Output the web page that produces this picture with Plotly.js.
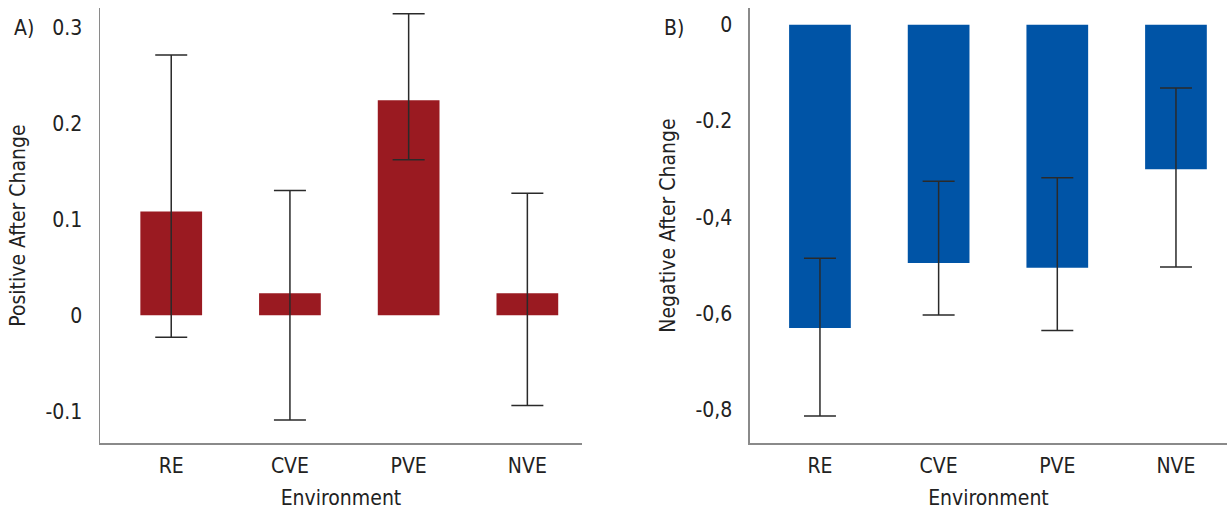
<!DOCTYPE html>
<html>
<head>
<meta charset="utf-8">
<script src="https://cdn.plot.ly/plotly-3.0.1.min.js"></script>
<style>html,body{margin:0;padding:0;background:#fff;}#chart{width:1227px;height:511px;}</style>
</head>
<body>
<div id="chart"></div>
<script>
const categories = ["RE", "CVE", "PVE", "NVE"];
const positiveMeans = [0.108, 0.023, 0.224, 0.023];
const positiveUpper = [0.271, 0.130, 0.314, 0.127];
const positiveLower = [-0.023, -0.109, 0.162, -0.094];
const negativeMeans = [-0.630, -0.495, -0.505, -0.300];
const negativeUpper = [-0.485, -0.325, -0.318, -0.131];
const negativeLower = [-0.813, -0.603, -0.635, -0.503];
const leftTickVals = [-0.1, 0, 0.1, 0.2, 0.3];
const leftTickText = ["-0.1", "0", "0.1", "0.2", "0.3"];
const rightTickVals = [-0.8, -0.6, -0.4, -0.2, 0];
const rightTickText = ["-0,8", "-0,6", "-0,4", "-0.2", "0"];

const FONT = '"Liberation Sans Narrow", "DejaVu Sans Condensed", sans-serif';
const TXT = '#222';
const FS = 21;

function errs(means, up, lo) {
  return {
    type: 'data', symmetric: false,
    array: means.map((m, i) => up[i] - m),
    arrayminus: means.map((m, i) => m - lo[i]),
    color: '#2a2a2a', thickness: 1.5, width: 16
  };
}

const traces = [
  {type: 'bar', x: categories, y: positiveMeans, xaxis: 'x', yaxis: 'y',
   marker: {color: '#9A1A21'}, width: 0.52, error_y: errs(positiveMeans, positiveUpper, positiveLower),
   hoverinfo: 'none'},
  {type: 'bar', x: categories, y: negativeMeans, xaxis: 'x2', yaxis: 'y2',
   marker: {color: '#0054A6'}, width: 0.52, error_y: errs(negativeMeans, negativeUpper, negativeLower),
   hoverinfo: 'none'}
];

const axisCommon = {
  showgrid: false, zeroline: false, showline: true, linecolor: '#8a8a8a', linewidth: 1.5,
  ticks: '', tickfont: {family: FONT, size: FS, color: TXT}
};

const layout = {
  width: 1227, height: 511,
  margin: {l: 0, r: 0, t: 8, b: 68},
  paper_bgcolor: '#fff', plot_bgcolor: '#fff',
  showlegend: false,
  font: {family: FONT, color: TXT, size: FS},
  xaxis: Object.assign({}, axisCommon, {
    domain: [0.0815, 0.4743], anchor: 'y', range: [-0.6, 3.46],
    ticklabelstandoff: 3,
    title: {text: 'Environment', font: {family: FONT, size: FS, color: TXT}, standoff: 13}
  }),
  yaxis: Object.assign({}, axisCommon, {
    domain: [0, 1], anchor: 'x', range: [-0.133, 0.32],
    tickvals: leftTickVals, ticktext: leftTickText, ticklabelstandoff: 12,
    title: {text: 'Positive After Change', font: {family: FONT, size: FS, color: TXT}, standoff: 14}
  }),
  xaxis2: Object.assign({}, axisCommon, {
    domain: [0.6112, 1], anchor: 'y2', range: [-0.59, 3.43],
    ticklabelstandoff: 3,
    title: {text: 'Environment', font: {family: FONT, size: FS, color: TXT}, standoff: 13}
  }),
  yaxis2: Object.assign({}, axisCommon, {
    domain: [0, 1], anchor: 'x2', range: [-0.869, 0.035],
    tickvals: rightTickVals, ticktext: rightTickText, ticklabelstandoff: 12,
    title: {text: 'Negative After Change', font: {family: FONT, size: FS, color: TXT}, standoff: 14}
  }),
  annotations: [
    {text: 'A)', xref: 'paper', yref: 'paper', x: 12 / 1227, y: 1 - (28 - 8) / 435, xanchor: 'left', yanchor: 'middle',
     showarrow: false, font: {family: FONT, size: FS, color: TXT}},
    {text: 'B)', xref: 'paper', yref: 'paper', x: 662 / 1227, y: 1 - (28 - 8) / 435, xanchor: 'left', yanchor: 'middle',
     showarrow: false, font: {family: FONT, size: FS, color: TXT}}
  ]
};

Plotly.newPlot('chart', traces, layout, {staticPlot: true, displayModeBar: false});
</script>
</body>
</html>
